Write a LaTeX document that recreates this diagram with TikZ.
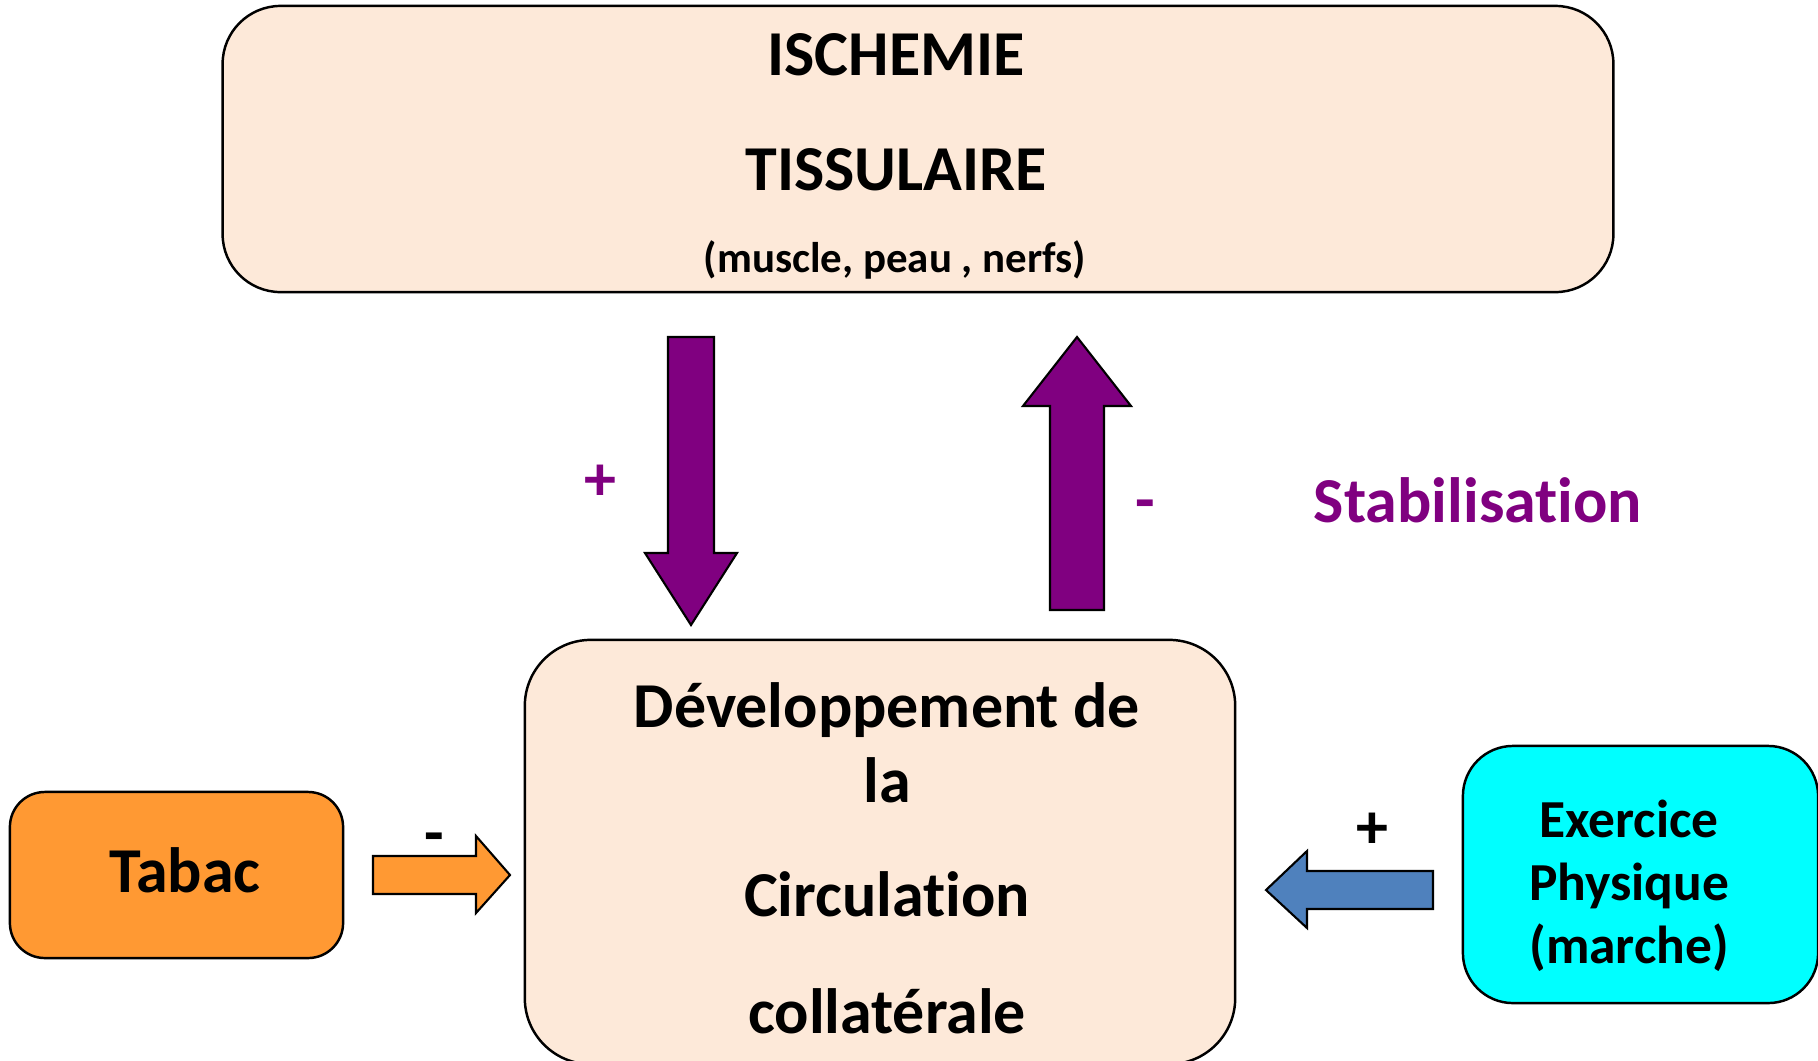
\documentclass[tikz,border=0pt]{standalone}
\usepackage{fontspec}
\setmainfont{Carlito}[Ligatures=NoCommon]
\usetikzlibrary{calc,positioning}

\definecolor{peach}{HTML}{FDE9D9}
\definecolor{tabacorange}{HTML}{FF9933}
\definecolor{stabpurple}{HTML}{800080}
\definecolor{exblue}{HTML}{4F81BD}
\definecolor{excyan}{HTML}{00FFFF}

\begin{document}
\begin{tikzpicture}[
    x=0.01cm, y=-0.01cm,
    box/.style={draw, line width=0.7pt, rectangle, rounded corners=#1, inner sep=0pt},
    box/.default=0.5cm,
    big/.style={font=\fontsize{18.2}{22}\selectfont\bfseries, anchor=base},
    small/.style={font=\fontsize{12.2}{14}\selectfont\bfseries, anchor=base},
    medium/.style={font=\fontsize{15.2}{18}\selectfont\bfseries, anchor=base},
    blockarrow/.style={draw, line width=0.6pt, line join=miter}
]

\useasboundingbox (0,0) rectangle (1818,1060);
\clip (0,0) rectangle (1818,1060);

% Boxes
\node[box=0.58cm, fill=peach, minimum width=13.9cm, minimum height=2.86cm] (ischemie) at (918,149) {};
\node[box=0.66cm, fill=peach, minimum width=7.1cm, minimum height=4.24cm] (developpement) at (880,852) {};
\node[box=0.35cm, fill=tabacorange, minimum width=3.33cm, minimum height=1.66cm] (tabac) at (176.5,875) {};
\node[box=0.5cm, fill=excyan, minimum width=3.55cm, minimum height=2.57cm] (exercice) at (1640.5,874.5) {};

% Top box text
\node[big] (isch) at (896,75) {ISCHEMIE};
\node[big] (tiss) at (896,190) {TISSULAIRE};
\node[small] (organes) at (895,272) {(muscle, peau , nerfs)};

% Bottom box text
\node[big] (dev1) at (887,727) {Développement de};
\node[big] (dev2) at (887,802) {la};
\node[big] (dev3) at (887,916) {Circulation};
\node[big] (dev4) at (887,1033) {collatérale};

% Side boxes text
\node[big] (tabactxt) at (185,892) {Tabac};
\node[medium] (ex1) at (1629,837) {Exercice};
\node[medium] (ex2) at (1629,900) {Physique};
\node[medium] (ex3) at (1629,963) {(marche)};

% Block arrows
\draw[blockarrow, fill=stabpurple] (668,337) -- (714,337) -- (714,553) -- (737,553) -- (691,625) -- (645,553) -- (668,553) -- cycle;
\draw[blockarrow, fill=stabpurple] (1050,610) -- (1050,406) -- (1023,406) -- (1077,337) -- (1131,406) -- (1104,406) -- (1104,610) -- cycle;
\draw[blockarrow, fill=tabacorange] (373,856) -- (476,856) -- (476,836) -- (510,875) -- (476,913) -- (476,894) -- (373,894) -- cycle;
\draw[blockarrow, fill=exblue] (1433,871) -- (1307,871) -- (1307,851) -- (1266,890) -- (1307,928) -- (1307,909) -- (1433,909) -- cycle;

% Signs
\node[big, text=stabpurple] (plus1) at (600,500) {+};
\node[big, text=stabpurple] (minus1) at (1145,521) {-};
\node[big] (minus2) at (434,854) {-};
\node[big] (plus2) at (1372,848) {+};
\node[big, text=stabpurple] (stab) at (1478,522) {Stabilisation};

\end{tikzpicture}
\end{document}
